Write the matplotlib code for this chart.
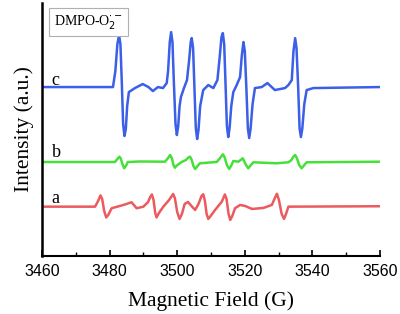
import matplotlib
matplotlib.use("Agg")
import matplotlib.pyplot as plt
from matplotlib.ticker import MultipleLocator

# Magnetic field (G) and intensity (a.u.)
field_c = [3460.0, 3481.0, 3481.7, 3482.3, 3482.8, 3483.2, 3483.6, 3484.0, 3484.4, 3484.8,
           3485.2, 3485.7, 3487.5, 3489.8, 3491.5, 3492.8, 3494.3, 3495.8, 3496.9, 3497.3,
           3497.8, 3498.2, 3498.6, 3499.0, 3499.5, 3499.9, 3500.3, 3500.7, 3501.1, 3502.0,
           3502.9, 3503.5, 3504.0, 3504.3, 3504.7, 3505.1, 3505.5, 3505.9, 3506.3, 3506.8,
           3507.7, 3509.2, 3510.7, 3511.9, 3512.6, 3513.1, 3513.5, 3513.9, 3514.3, 3514.7,
           3515.1, 3515.5, 3516.0, 3516.6, 3517.6, 3518.6, 3519.1, 3519.6, 3520.0, 3520.5,
           3520.9, 3521.3, 3521.7, 3522.3, 3523.0, 3525.0, 3526.7, 3528.9, 3531.9, 3532.9,
           3533.9, 3534.4, 3534.9, 3535.3, 3535.8, 3536.2, 3536.6, 3537.0, 3537.6, 3538.3,
           3540.3, 3560.0]
inten_c = [169, 169, 185, 212, 221, 212, 175, 132, 120, 127,
           150, 164, 168, 172, 169, 165, 169, 168, 173, 185,
           214, 224, 214, 175, 132, 121, 130, 150, 159, 168,
           176, 195, 214, 218, 208, 168, 128, 117, 126, 150,
           166, 171, 168, 176, 200, 219, 223, 212, 172, 130,
           119, 128, 150, 164, 171, 179, 200, 214, 205, 165,
           128, 118, 127, 152, 168, 169, 173, 166, 168, 171,
           176, 205, 218, 208, 168, 128, 119, 127, 152, 166,
           168, 169]

field_b = [3460.0, 3481.6, 3482.3, 3482.9, 3483.3, 3483.8, 3484.3, 3484.8, 3485.4, 3489.0,
           3496.4, 3497.3, 3497.9, 3498.4, 3498.9, 3499.3, 3499.9, 3501.3, 3502.6, 3503.3,
           3503.8, 3504.3, 3504.8, 3505.3, 3505.9, 3506.7, 3511.7, 3512.8, 3513.5, 3514.0,
           3514.7, 3515.4, 3516.0, 3516.6, 3518.1, 3519.4, 3520.2, 3521.0, 3521.7, 3522.5,
           3529.4, 3532.9, 3533.8, 3534.4, 3534.9, 3535.4, 3536.1, 3536.8, 3537.5, 3538.3,
           3560.0]
inten_b = [94, 94, 97, 99.3, 97.5, 92, 87.7, 90, 94, 94.5,
           94.3, 98, 101, 98, 91, 88.3, 90.5, 94, 96, 98.5,
           99.3, 96, 90, 87, 89.5, 92.7, 94, 98.5, 101.7, 99,
           91, 87, 90.5, 95, 94.3, 97.7, 92, 87.7, 90.5, 93.7,
           92.7, 93.7, 96, 99.5, 101, 98, 91, 87.7, 90.5, 93.7,
           94.3]

field_a = [3460.0, 3475.7, 3476.6, 3477.3, 3477.8, 3478.4, 3479.0, 3479.6, 3480.6, 3484.1,
           3486.5, 3488.0, 3490.0, 3491.4, 3492.0, 3492.5, 3493.0, 3493.5, 3493.9, 3494.6,
           3495.9, 3497.6, 3498.8, 3499.3, 3500.0, 3500.7, 3501.4, 3502.2, 3503.2, 3504.2,
           3505.3, 3506.3, 3507.2, 3507.7, 3508.2, 3508.7, 3509.2, 3509.9, 3511.2, 3513.2,
           3514.1, 3514.6, 3515.2, 3515.7, 3516.3, 3517.1, 3518.6, 3520.1, 3522.1, 3525.5,
           3528.0, 3528.9, 3529.5, 3530.1, 3530.9, 3531.6, 3532.2, 3532.9, 3560.0]
inten_a = [49.3, 49.3, 55, 60.5, 57, 45, 38.5, 41, 47.7, 51,
           53.7, 47.7, 49.3, 54, 59, 61.5, 56, 43, 38.5, 43,
           49.3, 56, 62, 58, 44, 37, 42, 52, 54, 50,
           46, 52, 60, 61.7, 55, 42, 37, 40, 46, 54.3,
           61.5, 57, 42, 36, 40, 47.7, 51, 50, 47, 48,
           51, 58, 62.2, 56, 42, 37, 42, 49.3, 49.7]

trace_labels = ["c", "b", "a"]
x_ticks = [3460, 3480, 3500, 3520, 3540, 3560]

fig = plt.figure(figsize=(4.0, 3.14), dpi=100)
ax = fig.add_axes([0.105, 0.185, 0.845, 0.805])

ax.plot(field_c, inten_c, color="#3b5fe6", lw=1.8, solid_joinstyle="round")
ax.plot(field_b, inten_b, color="#47e03a", lw=1.8, solid_joinstyle="round")
ax.plot(field_a, inten_a, color="#ea5a5e", lw=1.8, solid_joinstyle="round")

serif = ["Liberation Serif", "DejaVu Serif"]
for lab, yb in zip(trace_labels, [171, 98.7, 52.7]):
    ax.text(3462.9, yb, lab, family=serif, fontsize=13, va="baseline", ha="left")

ax.text(0.035, 0.925, r"DMPO-O$_2^{\cdot-}$", transform=ax.transAxes, family=serif,
        fontsize=10, va="center", ha="left",
        bbox=dict(boxstyle="square,pad=0.35", fc="white", ec="#b0b0b0", lw=0.8))

ax.set_xlim(3460, 3560)
ax.set_ylim(0, 253)
ax.set_xticks(x_ticks)
ax.xaxis.set_minor_locator(MultipleLocator(10))
ax.set_yticks([])
for s in ["top", "right"]:
    ax.spines[s].set_visible(False)
ax.spines["left"].set_linewidth(1.8)
ax.spines["bottom"].set_linewidth(1.5)
ax.tick_params(axis="x", which="major", direction="in", length=4, width=1.2,
               labelsize=11.5, pad=6)
ax.tick_params(axis="x", which="minor", direction="in", length=3, width=1.0)
for t in ax.get_xticklabels():
    t.set_family(["Liberation Sans", "DejaVu Sans"])

ax.set_xlabel("Magnetic Field (G)", family=serif, fontsize=15.5, labelpad=9)
ax.set_ylabel("Intensity (a.u.)", family=serif, fontsize=15.5, labelpad=6)

fig.savefig("out.png", dpi=100)
